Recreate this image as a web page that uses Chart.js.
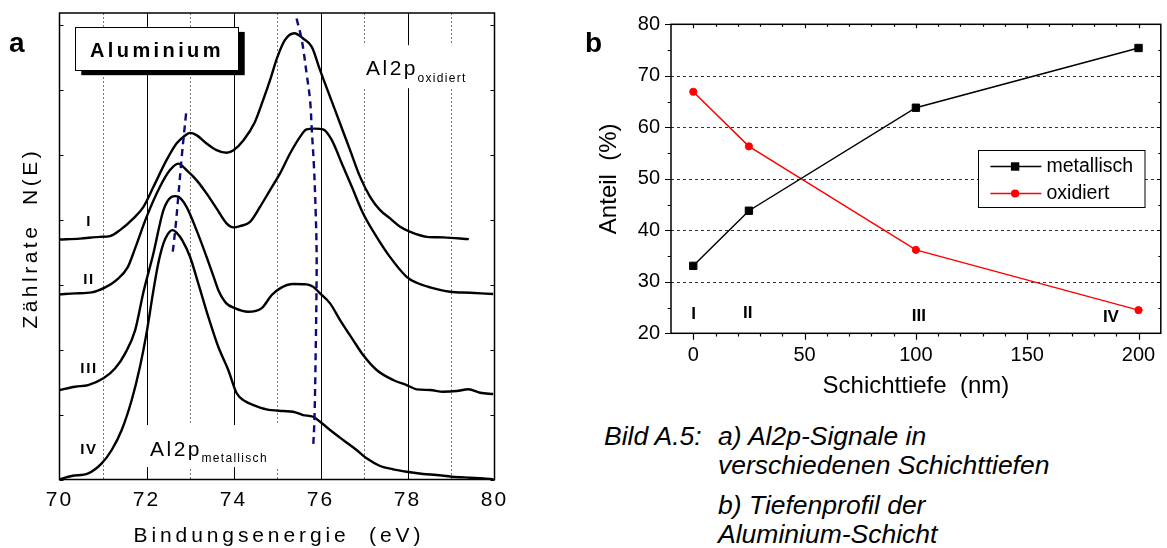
<!DOCTYPE html>
<html><head><meta charset="utf-8">
<script src="https://cdn.jsdelivr.net/npm/chart.js@4.4.0/dist/chart.umd.min.js"></script>
<style>
html,body{margin:0;padding:0;background:#fff;width:1167px;height:548px;overflow:hidden;font-family:'Liberation Sans',Arial,sans-serif;color:#000;}
.abs{position:absolute;white-space:nowrap;line-height:1;}
#wa{position:absolute;left:0;top:0;width:525px;height:548px;}
#wb{position:absolute;left:560px;top:0;width:607px;height:410px;}
.panel{font-weight:bold;font-size:28px;}
.cap{font-style:italic;font-size:26.5px;}
</style></head><body>
<div id="wa"><canvas id="ca" width="525" height="548" style="width:525px;height:548px"></canvas></div>
<div id="wb"><canvas id="cb" width="607" height="410" style="width:607px;height:410px"></canvas></div>
<div class="abs panel" style="left:9px;top:29px">a</div>
<div class="abs panel" style="left:585px;top:29px">b</div>
<div class="abs cap" style="left:604px;top:423px">Bild A.5:</div>
<div class="abs cap" style="left:718px;top:423px">a) Al2p-Signale in</div>
<div class="abs cap" style="left:718px;top:452px">verschiedenen Schichttiefen</div>
<div class="abs cap" style="left:718px;top:492px">b) Tiefenprofil der</div>
<div class="abs cap" style="left:718px;top:521px">Aluminium-Schicht</div>
<script>
// ---------- Panel a: Al2p spectra (binding energy in eV, counts in arbitrary units) ----------
const energyI = [70.00,70.47,70.93,71.16,71.39,71.70,71.93,72.16,72.46,72.69,72.85,73.00,73.15,73.38,73.61,73.84,74.00,74.23,74.49,74.68,74.84,75.00,75.18,75.40,75.60,75.80,75.99,76.22,76.45,76.68,76.91,77.14,77.37,77.60,77.83,78.06,78.44,78.82,79.41];
const countsI = [36.95,37.08,37.35,37.46,38.38,40.18,41.97,45.05,49.15,51.72,52.74,53.35,53.00,51.72,50.69,50.28,50.69,52.23,55.00,58.38,61.46,64.85,67.62,68.69,67.88,66.58,63.00,58.89,54.80,50.69,46.58,43.51,41.46,40.18,38.89,38.12,37.35,37.26,37.00];
const energyII = [70.00,70.36,70.74,71.05,71.31,71.57,71.74,72.00,72.31,72.54,72.73,72.92,73.15,73.38,73.61,73.84,74.00,74.15,74.38,74.61,74.84,75.07,75.30,75.53,75.68,75.87,76.06,76.26,76.49,76.72,76.98,77.29,77.60,77.98,78.21,78.52,78.98,79.44,79.97];
const countsII = [28.49,28.65,28.80,29.57,30.69,32.69,35.62,40.38,45.05,47.62,48.62,47.62,46.08,44.03,41.72,39.42,38.80,39.00,39.66,41.97,44.54,47.11,50.18,52.74,53.88,54.00,53.88,52.23,48.65,45.05,40.95,37.35,34.23,31.20,30.28,29.57,28.89,28.74,28.54];
const energyIII = [70.00,70.36,70.66,71.01,71.28,71.51,71.74,71.93,72.15,72.39,72.58,72.66,72.73,72.92,73.15,73.38,73.57,73.65,73.83,74.03,74.33,74.65,74.88,75.07,75.37,75.68,75.83,75.99,76.22,76.45,76.75,76.98,77.29,77.67,77.98,78.21,78.52,78.82,79.13,79.40,79.67,79.97];
const countsIII = [13.77,14.28,14.54,15.57,17.11,19.42,23.00,28.85,34.54,41.46,43.51,43.62,43.54,41.97,38.38,34.28,30.69,29.15,27.15,26.38,25.82,26.38,28.40,29.42,30.08,30.03,29.66,28.65,27.11,24.54,21.46,19.15,16.85,15.31,14.54,13.88,13.77,13.51,13.62,13.88,13.35,13.15];
const energyIV = [70.00,70.28,70.66,70.97,71.20,71.43,71.66,71.85,72.00,72.16,72.27,72.39,72.49,72.60,72.70,72.82,73.00,73.19,73.42,73.65,73.88,74.07,74.26,74.46,74.76,75.14,75.37,75.60,75.83,75.99,76.22,76.52,76.83,77.06,77.37,77.67,77.98,78.36,78.67,79.02,79.44,79.74,79.97];
const countsIV = [0.03,0.54,0.95,2.49,4.54,7.62,12.23,17.35,22.49,29.15,33.26,36.34,37.77,38.38,37.92,36.85,34.28,30.18,25.05,20.43,16.85,13.31,12.08,11.46,10.80,10.54,10.43,9.92,9.66,8.89,7.62,6.08,4.54,3.26,2.08,1.57,1.20,0.85,0.69,0.43,0.28,0.18,0.03];
// peak-shift guide lines (dashed)
const guideMetE = [72.91,72.81,72.73,72.66,72.59];
const guideMetN = [56.34,49.66,43.51,38.38,34.28];
const guideOxE = [75.45,75.57,75.68,75.76,75.80,75.85,75.89,75.91,75.91,75.89,75.86,75.83];
const guideOxN = [70.95,67.62,62.49,58.38,53.77,48.12,40.95,35.31,30.69,19.92,9.15,4.80];
const energyTicks = [70,72,74,76,78,80];
const spectrumNames = ['I','II','III','IV'];
const spectrumLabelN = [39.6,30.7,17.05,4.54];

// ---------- Panel b: depth profile ----------
const depthNm = [0,25,100,200];
const anteilMetallisch = [33.1,43.8,63.8,75.4];
const anteilOxidiert = [66.9,56.3,36.2,24.5];
const depthTicks = [0,50,100,150,200];
const anteilTicks = [20,30,40,50,60,70,80];
const seriesNames = ['metallisch','oxidiert'];
const depthLabelX = [0.2,24.5,101.3,187.6];
const depthLabelY = [23.65,23.94,23.3,23.17];

const FONT = "'Liberation Sans', Arial, sans-serif";
Chart.defaults.font.family = FONT;
Chart.defaults.color = '#000';

const pts = (xs, ys) => xs.map((v, i) => ({x: v, y: ys[i]}));

function spaced(ctx, text, x, y, sp, align) {
  ctx.save();
  try { ctx.letterSpacing = '0px'; } catch (e) {}
  ctx.textAlign = 'left';
  const chars = [...text];
  const ws = chars.map(c => ctx.measureText(c).width);
  const total = ws.reduce((a, b) => a + b, 0) + sp * (chars.length - 1);
  let cx = align === 'center' ? x - total / 2 : (align === 'right' ? x - total : x);
  chars.forEach((c, i) => { ctx.fillText(c, cx, y); cx += ws[i] + sp; });
  ctx.restore();
  return total;
}

// ---------- Panel a plugin ----------
const panelAPlugin = {
  id: 'panelA',
  beforeUpdate(chart) { try { chart.ctx.letterSpacing = '2px'; } catch (e) {} },
  beforeDraw(chart) { try { chart.ctx.letterSpacing = '2px'; } catch (e) {} },
  beforeDatasetsDraw(chart) {
    const {ctx, chartArea: a, scales: {x, y}} = chart;
    ctx.save();
    ctx.lineWidth = 1;
    for (let e = 71; e <= 79; e++) {
      const px = Math.round(x.getPixelForValue(e)) + 0.5;
      ctx.beginPath();
      if (e % 2 === 0) { ctx.setLineDash([]); ctx.strokeStyle = '#000'; }
      else { ctx.setLineDash([2, 2]); ctx.strokeStyle = '#777'; }
      ctx.moveTo(px, a.top); ctx.lineTo(px, a.bottom); ctx.stroke();
    }
    ctx.setLineDash([]);
    ctx.fillStyle = '#fff';
    const bg = (x0, x1, y0, y1) => {
      const l = x.getPixelForValue(x0), r = x.getPixelForValue(x1);
      const t = y.getPixelForValue(y1), b = y.getPixelForValue(y0);
      ctx.fillRect(l, t, r - l, b - t);
    };
    bg(76.91, 79.44, 60.23, 66.85);
    bg(71.90, 75.07, 1.92, 8.38);
    ctx.restore();
  },
  afterDatasetsDraw(chart) {
    const {ctx, chartArea: a, scales: {x, y}} = chart;
    ctx.save();
    // Aluminium box with shadow
    const l = x.getPixelForValue(70.363), r = x.getPixelForValue(74.12);
    const t = y.getPixelForValue(69.66), b = y.getPixelForValue(63.0);
    ctx.fillStyle = '#000';
    ctx.fillRect(l + 6, t + 5, r - l, b - t);
    ctx.fillStyle = '#fff';
    ctx.fillRect(l, t, r - l, b - t);
    ctx.strokeStyle = '#000'; ctx.lineWidth = 1;
    ctx.strokeRect(Math.round(l) + 0.5, Math.round(t) + 0.5, Math.round(r - l), Math.round(b - t));
    ctx.fillStyle = '#000';
    ctx.textBaseline = 'alphabetic';
    ctx.font = 'bold 20px ' + FONT;
    spaced(ctx, 'Aluminium', x.getPixelForValue(70.701), y.getPixelForValue(65.05), 3.4, 'left');
    // Al2p labels
    ctx.font = '21px ' + FONT;
    let w = spaced(ctx, 'Al2p', x.getPixelForValue(77.046), y.getPixelForValue(62.23), 2.5, 'left');
    ctx.font = '12px ' + FONT;
    spaced(ctx, 'oxidiert', x.getPixelForValue(77.046) + w + 2, y.getPixelForValue(61.2), 1.3, 'left');
    ctx.font = '21px ' + FONT;
    w = spaced(ctx, 'Al2p', x.getPixelForValue(72.08), y.getPixelForValue(3.62), 2.5, 'left');
    ctx.font = '12px ' + FONT;
    spaced(ctx, 'metallisch', x.getPixelForValue(72.08) + w + 2, y.getPixelForValue(2.74), 1.3, 'left');
    // Roman numerals
    ctx.font = 'bold 15px ' + FONT;
    ctx.textBaseline = 'middle';
    spectrumNames.forEach((s, i) => spaced(ctx, s, x.getPixelForValue(70.66), y.getPixelForValue(spectrumLabelN[i]), 1.6, 'center'));
    // frame
    ctx.lineWidth = 1.5; ctx.strokeStyle = '#000';
    ctx.strokeRect(a.left, a.top, a.right - a.left, a.bottom - a.top);
    // inward ticks left/right
    ctx.lineWidth = 1;
    for (let v = 0; v <= 70; v += 10) {
      const py = Math.round(y.getPixelForValue(v)) + 0.5;
      ctx.beginPath();
      ctx.moveTo(a.left, py); ctx.lineTo(a.left + 4, py);
      ctx.moveTo(a.right, py); ctx.lineTo(a.right - 4, py);
      ctx.stroke();
    }
    ctx.restore();
  },
  afterDraw(chart) {
    const {ctx, chartArea: a} = chart;
    ctx.save();
    ctx.fillStyle = '#000';
    ctx.font = '21px ' + FONT;
    ctx.textBaseline = 'middle';
    spaced(ctx, 'Bindungsenergie  (eV)', (a.left + a.right) / 2, 536.5, 3.9, 'center');
    ctx.translate(31, 240);
    ctx.rotate(-Math.PI / 2);
    spaced(ctx, 'Zählrate  N(E)', 0, 0, 3.5, 'center');
    ctx.restore();
  }
};

const lineStyle = {borderColor: '#000', borderWidth: 2.4, pointRadius: 0, cubicInterpolationMode: 'monotone', fill: false};
const guideStyle = {borderColor: '#0b0b7a', borderWidth: 2.4, borderDash: [7, 5], pointRadius: 0, tension: 0.4, fill: false};

new Chart(document.getElementById('ca'), {
  type: 'line',
  data: {
    datasets: [
      Object.assign({label: 'guide metallisch', data: pts(guideMetE, guideMetN)}, guideStyle),
      Object.assign({label: 'guide oxidiert', data: pts(guideOxE, guideOxN)}, guideStyle),
      Object.assign({label: spectrumNames[0], data: pts(energyI, countsI)}, lineStyle),
      Object.assign({label: spectrumNames[1], data: pts(energyII, countsII)}, lineStyle),
      Object.assign({label: spectrumNames[2], data: pts(energyIII, countsIII)}, lineStyle),
      Object.assign({label: spectrumNames[3], data: pts(energyIV, countsIV)}, lineStyle)
    ]
  },
  options: {
    responsive: false, animation: false, devicePixelRatio: 1, events: [],
    layout: {padding: {top: 13, right: 30.5, left: 0, bottom: 0}},
    plugins: {legend: {display: false}, tooltip: {enabled: false}},
    scales: {
      x: {
        type: 'linear', min: 70, max: 80,
        afterBuildTicks: s => { s.ticks = energyTicks.map(v => ({value: v})); },
        afterFit: s => { s.height = 68.5; },
        grid: {display: false, drawTicks: false}, border: {display: false},
        ticks: {font: {size: 21}, color: '#000', padding: 8, maxRotation: 0, autoSkip: false}
      },
      y: {
        type: 'linear', min: 0, max: 71.8,
        afterFit: s => { s.width = 59.5; },
        grid: {display: false, drawTicks: false}, border: {display: false},
        ticks: {display: false}
      }
    }
  },
  plugins: [panelAPlugin]
});

// ---------- Panel b plugin ----------
const panelBPlugin = {
  id: 'panelB',
  beforeDatasetsDraw(chart) {
    const {ctx, chartArea: a, scales: {y}} = chart;
    ctx.save();
    ctx.strokeStyle = '#333'; ctx.lineWidth = 1; ctx.setLineDash([3, 3]);
    anteilTicks.slice(1, -1).forEach(v => {
      const py = Math.round(y.getPixelForValue(v)) + 0.5;
      ctx.beginPath(); ctx.moveTo(a.left, py); ctx.lineTo(a.right, py); ctx.stroke();
    });
    ctx.restore();
  },
  afterDatasetsDraw(chart) {
    const {ctx, chartArea: a, scales: {x, y}} = chart;
    ctx.save();
    ctx.strokeStyle = '#000';
    ctx.lineWidth = 1.5;
    ctx.strokeRect(a.left, a.top, a.right - a.left, a.bottom - a.top);
    ctx.lineWidth = 1.2;
    ctx.beginPath();
    for (let v = 20; v <= 80; v += 5) {
      const py = Math.round(y.getPixelForValue(v)) + 0.5;
      const major = v % 10 === 0;
      ctx.moveTo(a.left - (major ? 6 : 3.3), py); ctx.lineTo(a.left, py);
      ctx.moveTo(a.right - (major ? 4 : 2.5), py); ctx.lineTo(a.right, py);
    }
    for (let v = 0; v <= 200; v += 10) {
      const px = Math.round(x.getPixelForValue(v)) + 0.5;
      const major = v % 50 === 0;
      ctx.moveTo(px, a.bottom); ctx.lineTo(px, a.bottom + (major ? 6.5 : 3.3));
      ctx.moveTo(px, a.top); ctx.lineTo(px, a.top + (major ? 4 : 2.5));
    }
    ctx.stroke();
    // roman numerals
    ctx.fillStyle = '#000';
    ctx.font = 'bold 17px ' + FONT;
    ctx.textAlign = 'center'; ctx.textBaseline = 'middle';
    spectrumNames.forEach((s, i) => ctx.fillText(s, x.getPixelForValue(depthLabelX[i]), y.getPixelForValue(depthLabelY[i])));
    // legend
    const bl = 418.5, bt = 150.5, br = 585, bb = 207.5;
    ctx.fillStyle = '#fff'; ctx.fillRect(bl, bt, br - bl, bb - bt);
    ctx.lineWidth = 1; ctx.strokeStyle = '#000';
    ctx.strokeRect(bl, bt, br - bl, bb - bt);
    const rows = [166.5, 193.5];
    chart.data.datasets.forEach((ds, i) => {
      const ry = rows[i];
      ctx.strokeStyle = ds.borderColor; ctx.lineWidth = ds.borderWidth;
      ctx.beginPath(); ctx.moveTo(430.4, ry); ctx.lineTo(481.4, ry); ctx.stroke();
      ctx.fillStyle = ds.borderColor;
      if (ds.pointStyle === 'rect') {
        ctx.fillRect(455.1 - 4.2, ry - 4.2, 8.4, 8.4);
      } else {
        ctx.beginPath(); ctx.arc(455.1, ry, 4.1, 0, Math.PI * 2); ctx.fill();
      }
      ctx.fillStyle = '#000';
      ctx.font = '19.5px ' + FONT;
      ctx.textAlign = 'left'; ctx.textBaseline = 'middle';
      ctx.fillText(ds.label, 486.5, ry);
    });
    ctx.restore();
  }
};

new Chart(document.getElementById('cb'), {
  type: 'line',
  data: {
    datasets: [
      {label: seriesNames[0], data: pts(depthNm, anteilMetallisch), borderColor: '#000', backgroundColor: '#000',
       borderWidth: 1.5, pointStyle: 'rect', pointRadius: 5.2, pointBorderWidth: 1, tension: 0, fill: false},
      {label: seriesNames[1], data: pts(depthNm, anteilOxidiert), borderColor: '#ff0000', backgroundColor: '#ff0000',
       borderWidth: 1.5, pointStyle: 'circle', pointRadius: 3.6, pointBorderWidth: 1, tension: 0, fill: false}
    ]
  },
  options: {
    responsive: false, animation: false, devicePixelRatio: 1, events: [],
    layout: {padding: {top: 24.3, right: 1.5, left: 0, bottom: 0}},
    plugins: {legend: {display: false}, tooltip: {enabled: false}},
    scales: {
      x: {
        type: 'linear', min: -10, max: 210,
        afterBuildTicks: s => { s.ticks = depthTicks.map(v => ({value: v})); },
        afterFit: s => { s.height = 76.7; },
        grid: {display: false, drawTicks: false}, border: {display: false},
        ticks: {font: {size: 20}, color: '#000', padding: 10, maxRotation: 0, autoSkip: false},
        title: {display: true, text: 'Schichttiefe  (nm)', font: {size: 24}, color: '#000', padding: {top: 0, bottom: 8.9}}
      },
      y: {
        type: 'linear', min: 20, max: 80,
        afterBuildTicks: s => { s.ticks = anteilTicks.map(v => ({value: v})); },
        afterFit: s => { s.width = 111; },
        grid: {display: false, drawTicks: false}, border: {display: false},
        ticks: {font: {size: 20}, color: '#000', padding: 11},
        title: {display: true, text: 'Anteil  (%)', font: {size: 24}, color: '#000', padding: {top: 35.4, bottom: 0}}
      }
    }
  },
  plugins: [panelBPlugin]
});
</script>
</body></html>
